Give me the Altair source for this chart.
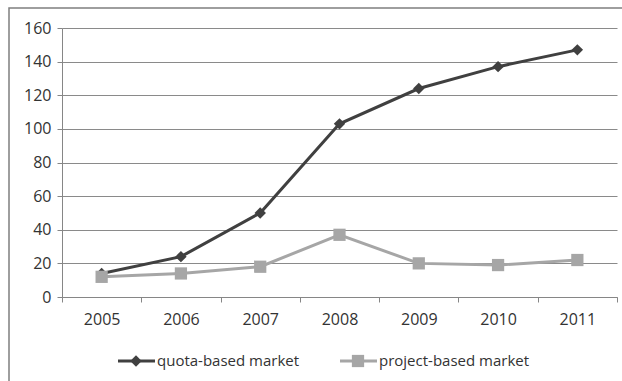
import altair as alt
import pandas as pd

years = ["2005", "2006", "2007", "2008", "2009", "2010", "2011"]
quota = [14, 24, 50, 103, 124, 137, 147]
project = [12, 14, 18, 37, 20, 19, 22]
series_names = ["quota-based market", "project-based market"]
y_ticks = [0, 20, 40, 60, 80, 100, 120, 140, 160]

rows = []
for y, q, p in zip(years, quota, project):
    rows.append({"year": y, "value": q, "series": series_names[0]})
    rows.append({"year": y, "value": p, "series": series_names[1]})
df = pd.DataFrame(rows)

colors = {series_names[0]: "#404040", series_names[1]: "#a6a6a6"}
shapes = {series_names[0]: "diamond", series_names[1]: "square"}
sizes = {series_names[0]: 130, series_names[1]: 150}
FONT = "Open Sans"

W, H = 555, 269

x_enc = alt.X("year:O", sort=years,
              scale=alt.Scale(paddingInner=0, paddingOuter=0),
              axis=alt.Axis(title=None, labelAngle=0, tickBand="extent",
                            domainColor="#868686", tickColor="#868686",
                            tickSize=5, labelPadding=9, labelFontSize=16,
                            labelFont=FONT, labelColor="#333333", grid=False))
y_enc = alt.Y("value:Q",
              scale=alt.Scale(domain=[0, 160], nice=False),
              axis=alt.Axis(title=None, values=y_ticks, domainColor="#868686",
                            tickColor="#868686", tickSize=5, gridColor="#8a8a8a",
                            labelPadding=6, labelFontSize=16, labelFont=FONT,
                            labelColor="#333333"))

layers = []
# outer chart border
border = alt.Chart(pd.DataFrame({"a": [0]})).mark_rect(
    fill=None, stroke="#7f7f7f", strokeWidth=1.5
).encode(x=alt.value(-53), x2=alt.value(600), y=alt.value(-20), y2=alt.value(420))
layers.append(border)

for s in series_names:
    d = df[df.series == s]
    base = alt.Chart(d).encode(x=x_enc, y=y_enc)
    layers.append(base.mark_line(color=colors[s], strokeWidth=3))
    layers.append(base.mark_point(shape=shapes[s], filled=True, opacity=1,
                                  color=colors[s], size=sizes[s]))

# manual legend
leg_pos = {series_names[0]: 56, series_names[1]: 278}
ly = 333
for s in series_names:
    x0 = leg_pos[s]
    one = pd.DataFrame({"series": [s]})
    c = alt.Chart(one)
    layers.append(c.mark_rule(color=colors[s], strokeWidth=3).encode(
        x=alt.value(x0), x2=alt.value(x0 + 37), y=alt.value(ly)))
    layers.append(c.mark_point(shape=shapes[s], filled=True, opacity=1,
                               color=colors[s], size=sizes[s]).encode(
        x=alt.value(x0 + 18), y=alt.value(ly)))
    layers.append(c.mark_text(align="left", baseline="middle", font=FONT,
                              fontSize=15, color="#333333").encode(
        x=alt.value(x0 + 39), y=alt.value(ly), text="series:N"))

chart = alt.layer(*layers).properties(
    width=W, height=H,
    padding={"left": 62, "top": 28, "right": 5, "bottom": 84},
    autosize=alt.AutoSizeParams(type="none"),
    background="white",
).configure_view(stroke=None)

chart.save("out.html", embed_options={"renderer": "svg", "actions": False})
